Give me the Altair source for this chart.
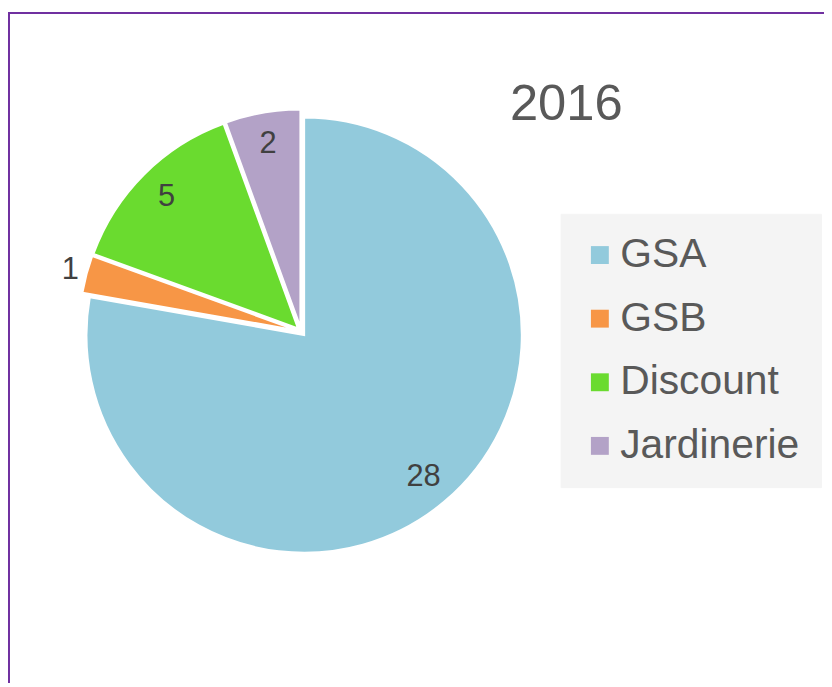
import altair as alt
import pandas as pd

# ---- data ----
categories = ["GSA", "GSB", "Discount", "Jardinerie"]
values = [28, 1, 5, 2]
colors = ["#92CADC", "#F79646", "#6ADB2F", "#B3A2C7"]
title_text = "2016"

df = pd.DataFrame({"cat": categories, "value": values, "order": list(range(len(categories)))})

FONT = "Liberation Sans"
CX, CY = 294, 320.5      # pie centre inside the view (px)
EXPLODE = 4.6            # slice explosion (px)
R = 219                  # outer radius (px)

base = alt.Chart(df).transform_joinaggregate(
    total="sum(value)"
).transform_window(
    cum="sum(value)", sort=[alt.SortField("order")], frame=[None, 0]
).transform_calculate(
    start="(datum.cum - datum.value) / datum.total * 2 * PI",
    end="datum.cum / datum.total * 2 * PI",
).transform_calculate(
    mid="(datum.start + datum.end) / 2"
).transform_calculate(
    ox=f"{CX} + {EXPLODE} * sin(datum.mid)",
    oy=f"{CY} - {EXPLODE} * cos(datum.mid)",
    lr="datum.value / datum.total < 0.05 ? 236 : 187",
).transform_calculate(
    lx="datum.ox + datum.lr * sin(datum.mid)",
    ly="datum.oy - datum.lr * cos(datum.mid)",
)

arcs = base.mark_arc(outerRadius=R, stroke="white", strokeWidth=2).encode(
    theta=alt.Theta("start:Q", scale=None),
    theta2="end:Q",
    x=alt.X("ox:Q", scale=None),
    y=alt.Y("oy:Q", scale=None),
    color=alt.Color(
        "cat:N",
        scale=alt.Scale(domain=categories, range=colors),
        sort=categories,
        legend=alt.Legend(
            title=None,
            orient="none",
            legendX=555,
            legendY=202,
            padding=21,
            fillColor="#F4F4F4",
            strokeColor="#F4F4F4",
            symbolType="square",
            symbolSize=324,
            symbolStrokeWidth=0,
            symbolOffset=-2,
            labelFont=FONT,
            labelFontSize=41,
            labelColor="#595959",
            labelOffset=0,
            labelLimit=400,
            rowPadding=22,
        ),
    ),
)

labels = base.mark_text(
    font=FONT, fontSize=31, color="#404040", align="center", baseline="middle"
).encode(
    x=alt.X("lx:Q", scale=None),
    y=alt.Y("ly:Q", scale=None),
    text=alt.Text("value:Q"),
)

frame = alt.Chart(pd.DataFrame({"f": [0]})).mark_rect(
    fill=None, fillOpacity=0, stroke="#7030A0", strokeWidth=2
).encode(
    x=alt.value(0), x2=alt.value(900), y=alt.value(0), y2=alt.value(900)
)

chart = alt.layer(frame, arcs, labels).properties(
    width=820,
    height=672,
    padding={"left": 1, "top": 3, "right": 0, "bottom": 0},
    autosize=alt.AutoSizeParams(type="none"),
    title=alt.TitleParams(
        title_text,
        anchor="start",
        frame="group",
        orient="top",
        font=FONT,
        fontSize=51,
        fontWeight="normal",
        color="#595959",
        baseline="alphabetic",
        dx=504,
        dy=164,
    ),
).configure_view(stroke=None)

chart.save("out.html", embed_options={"renderer": "svg", "actions": False})
